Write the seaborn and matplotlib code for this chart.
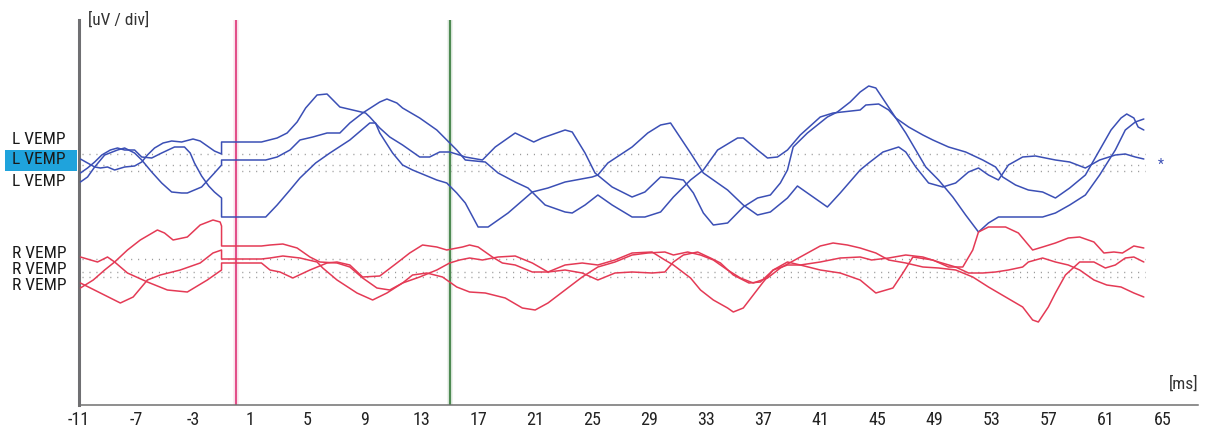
import matplotlib
matplotlib.use("Agg")
import matplotlib.pyplot as plt
from matplotlib.patches import Rectangle
import seaborn as sns

# ---- traces: time (ms) and vertical position (display units) ----
t_l1 = [-10.9, -10.4, -9.9, -9.5, -9.0, -8.5, -7.8, -7.1, -6.6, -6.2, -5.7, -5.1, -4.5, -3.8, -3.0, -2.5, -1.9, -1.5, -1.0,
        -1.0, 1.8, 2.9, 3.6, 4.3, 4.9, 5.7, 6.4, 7.3, 8.2, 9.1, 9.4, 10.1, 10.8, 11.7, 12.9, 13.6, 14.3, 15.0, 15.7, 16.1,
        17.3, 18.2, 19.6, 20.9, 21.5, 23.1, 23.6, 24.5, 25.2, 26.4, 27.8, 28.7, 29.8, 30.5, 31.4, 32.1, 32.8, 33.5, 34.5,
        35.6, 36.6, 37.5, 38.2, 38.7, 39.1, 40.1, 41.5, 42.2, 43.1, 43.8, 44.4, 44.9, 45.6, 46.3, 47.0, 47.7, 48.4, 49.3,
        50.3, 51.2, 52.1, 52.8, 53.5, 55.2, 56.6, 57.5, 58.5, 59.6, 60.6, 61.7, 62.4, 63.1, 63.7]
v_l1 = [246, 242, 238, 237, 238, 235, 238, 239, 243, 250, 257, 262, 264, 263, 266, 264, 258, 254, 251,
        263, 263, 267, 272, 283, 297, 310, 311, 298, 295, 292, 288, 277, 268, 260, 248, 248, 253, 253, 250, 248,
        245, 258, 272, 263, 267, 275, 273, 252, 232, 218, 208, 213, 228, 227, 225, 212, 192, 180, 182,
        198, 207, 210, 222, 235, 258, 272, 288, 293, 303, 313, 319, 317, 302, 287, 272, 255, 238, 225,
        208, 190, 173, 182, 188, 188, 188, 192, 200, 210, 230, 255, 275, 283, 286]

t_l2 = [-10.9, -10.4, -9.9, -9.2, -8.3, -7.8, -7.1, -6.6, -5.9, -5.2, -4.5, -3.8, -3.4, -2.4, -1.5, -1.0,
        -1.0, 2.1, 2.9, 3.8, 4.5, 5.4, 6.4, 7.3, 8.0, 8.9, 10.1, 10.6, 11.3, 11.7, 12.9, 14.1, 14.8, 15.5, 16.1,
        17.5, 18.4, 19.6, 20.5, 21.7, 23.1, 23.6, 24.5, 25.4, 26.4, 27.8, 28.7, 29.8, 30.7, 31.9, 32.8, 33.8, 35.2,
        35.6, 36.6, 37.3, 38.0, 38.7, 39.6, 41.0, 41.9, 43.8, 44.2, 45.1, 45.8, 46.3, 47.2, 48.2, 48.9, 50.0, 51.2,
        52.4, 53.3, 53.8, 54.7, 55.6, 56.6, 57.5, 58.5, 59.6, 60.6, 61.4, 62.1, 62.5, 63.0, 63.3, 63.7]
v_l2 = [223, 228, 238, 250, 255, 257, 252, 245, 233, 222, 213, 212, 212, 218, 232, 240,
        245, 245, 248, 255, 265, 268, 272, 272, 282, 292, 303, 306, 302, 297, 287, 275, 265, 255, 245,
        243, 232, 223, 217, 200, 193, 192, 200, 210, 200, 188, 188, 193, 208, 225, 235, 255, 267,
        267, 255, 247, 248, 255, 270, 288, 292, 295, 300, 301, 295, 287, 278, 270, 265, 258, 253,
        245, 238, 228, 220, 215, 213, 207, 217, 230, 255, 275, 287, 291, 287, 278, 275]

t_l3 = [-10.9, -10.4, -9.9, -9.4, -8.8, -8.3, -7.8, -7.1, -6.6, -5.9, -5.2, -4.3, -3.6, -3.2, -2.9, -2.4, -1.9, -1.5, -1.0,
        -1.0, 2.1, 2.9, 3.8, 4.5, 5.6, 6.6, 8.0, 9.4, 9.8, 10.1, 11.0, 11.7, 12.4, 14.1, 14.8, 15.5, 16.1,
        17.0, 17.7, 19.1, 20.8, 21.9, 23.1, 25.0, 25.4, 26.1, 27.8, 28.9, 29.8, 30.5, 31.9, 32.8, 34.5, 35.6, 36.6,
        37.5, 38.7, 39.4, 40.3, 41.5, 42.4, 43.8, 44.4, 45.4, 46.5, 47.0, 47.7, 48.6, 49.6, 50.5, 51.4, 52.1, 52.8,
        53.5, 54.2, 55.2, 56.1, 56.8, 57.5, 58.5, 59.6, 60.6, 61.7, 62.4, 63.1, 63.7]
v_l3 = [232, 237, 243, 250, 255, 257, 255, 255, 248, 247, 252, 258, 258, 252, 242, 229, 219, 213, 207,
        188, 188, 200, 215, 227, 242, 252, 265, 282, 282, 272, 252, 240, 235, 225, 222, 212, 202,
        178, 178, 192, 213, 217, 223, 228, 230, 242, 258, 272, 280, 282, 252, 232, 215, 200, 190,
        193, 207, 219, 210, 198, 212, 235, 242, 253, 258, 253, 238, 222, 218, 222, 233, 237, 230,
        225, 240, 248, 249, 247, 245, 243, 237, 245, 250, 251, 248, 246]

t_r1 = [-10.9, -10.0, -9.2, -8.5, -7.6, -6.7, -5.5, -5.0, -4.4, -3.4, -2.5, -1.6, -1.1, -1.0,
        -1.0, 1.8, 2.4, 3.3, 4.3, 5.2, 5.9, 7.1, 8.0, 8.9, 9.9, 10.8, 11.7, 12.9, 14.1, 15.0, 15.7, 16.4,
        17.3, 18.4, 19.6, 20.8, 21.9, 23.1, 24.3, 25.4, 26.6, 27.8, 29.2, 30.1, 30.7, 31.4, 32.4, 33.3, 34.0,
        34.9, 36.0, 36.8, 37.7, 38.7, 39.6, 41.0, 42.4, 43.8, 44.9, 46.1, 46.8, 47.5, 48.9, 50.0, 51.0, 51.7,
        52.1, 52.8, 54.0, 54.9, 55.9, 56.6, 57.5, 58.4, 59.2, 60.2, 60.9, 61.6, 62.2, 63.0, 63.7]
v_r1 = [117, 125, 135, 143, 155, 165, 175, 172, 165, 168, 180, 185, 183, 179,
        159, 159, 160, 161, 157, 148, 143, 142, 138, 127, 117, 115, 122, 128, 135, 142, 145, 147,
        145, 148, 149, 142, 133, 135, 132, 125, 132, 133, 132, 133, 143, 150, 153, 147, 142,
        130, 122, 123, 135, 143, 140, 135, 132, 125, 112, 117, 132, 148, 145, 138, 138, 155,
        173, 178, 178, 172, 155, 158, 162, 167, 168, 163, 152, 153, 152, 159, 157]

t_r2 = [-10.9, -9.5, -8.1, -7.2, -6.2, -5.3, -3.9, -2.5, -1.6, -1.0,
        -1.0, 1.8, 2.4, 3.3, 4.5, 5.7, 6.1, 7.1, 8.5, 9.6, 10.6, 11.7, 12.4, 13.4, 14.5, 15.5, 16.4,
        17.5, 18.9, 20.1, 21.0, 21.9, 23.1, 24.3, 25.4, 26.6, 27.8, 28.9, 30.1, 30.7, 31.7, 32.6, 33.5, 34.5,
        35.4, 36.3, 37.3, 38.2, 39.6, 41.0, 41.9, 42.9, 43.8, 44.9, 45.8, 47.0, 48.2, 49.3, 50.5, 51.7,
        52.8, 54.0, 55.2, 55.9, 56.3, 57.0, 57.5, 58.2, 59.2, 60.2, 61.0, 61.7, 62.4, 63.0, 63.7]
v_r2 = [122, 112, 102, 108, 125, 130, 135, 142, 152, 155,
        146, 146, 147, 149, 147, 143, 137, 125, 112, 105, 112, 122, 130, 132, 128, 118, 113,
        112, 107, 97, 95, 102, 115, 128, 138, 143, 150, 152, 153, 150, 153, 150, 145, 135,
        127, 122, 127, 137, 148, 159, 162, 160, 157, 152, 145, 142, 138, 137, 135, 128,
        118, 108, 98, 85, 83, 98, 112, 130, 143, 143, 137, 140, 147, 148, 143]

t_r3 = [-10.9, -9.7, -9.0, -8.5, -7.6, -6.2, -4.8, -3.4, -2.0, -1.0,
        -1.0, 1.8, 2.4, 3.1, 4.0, 5.2, 6.4, 7.1, 8.0, 8.9, 10.1, 11.3, 12.2, 13.1, 14.1, 14.8, 15.9, 16.4,
        17.0, 18.0, 18.7, 19.6, 20.8, 21.9, 23.1, 24.3, 25.4, 26.6, 27.8, 29.2, 30.1, 30.7, 31.9, 32.6, 33.5,
        34.5, 34.9, 35.6, 36.3, 37.0, 37.7, 38.7, 39.6, 41.0, 42.4, 43.8, 44.6, 45.8, 47.0, 48.2, 49.3, 50.5,
        51.4, 52.4, 53.3, 54.2, 55.2, 55.6, 56.6, 57.5, 58.4, 59.2, 60.2, 61.1, 62.1, 63.0, 63.7]
v_r3 = [148, 143, 148, 143, 132, 123, 115, 113, 125, 135,
        142, 142, 135, 133, 127, 135, 142, 143, 140, 128, 129, 142, 152, 160, 158, 155, 158, 160,
        158, 148, 142, 140, 133, 133, 140, 142, 140, 145, 152, 153, 145, 140, 127, 115, 105,
        97, 93, 97, 110, 123, 135, 140, 140, 143, 147, 148, 145, 147, 150, 148, 143, 138,
        132, 132, 133, 135, 138, 143, 147, 143, 140, 135, 125, 120, 118, 112, 108]

# reference (baseline) levels of each channel
l_baselines = [251, 240, 234]
r_baselines = [146, 133, 128]

# channel labels and their vertical positions
l_labels = ["L VEMP", "L VEMP", "L VEMP"]
l_label_pos = [265, 245, 223]
r_labels = ["R VEMP", "R VEMP", "R VEMP"]
r_label_pos = [151, 135, 120]

# time axis
x_ticks = list(range(-11, 66, 4))
stim_marker = 0.0
latency_marker = 15.0
x_min, x_max = -11, 67.5
y_min, y_max = 0, 385
t_end = 63.8

# ---- figure ----
sns.set_style("white")
plt.rcParams["font.family"] = ["Roboto Condensed", "Liberation Sans Narrow", "Roboto", "DejaVu Sans"]

W, H, DPI = 1209, 430, 100
fig = plt.figure(figsize=(W / DPI, H / DPI), dpi=DPI)
ax = fig.add_axes([79 / W, 1 - 405 / H, 1119 / W, 385 / H])

blue = "#3b4fb5"
red = "#e43a55"

# baselines
for b in l_baselines + r_baselines:
    ax.plot([x_min + 0.2, t_end], [b, b], color="#9a9a9a", lw=1.0,
            linestyle=(0, (0.8, 4.2)), zorder=1)

# marker lines
ax.axvline(stim_marker, color="#f0b8cc", lw=4, alpha=0.3, zorder=1)
ax.axvline(stim_marker, color="#e2508a", lw=1.5, zorder=2)
ax.axvline(latency_marker, color="#b8d0b8", lw=4, alpha=0.3, zorder=1)
ax.axvline(latency_marker, color="#4e8a52", lw=1.6, zorder=2)

for t, v in [(t_l1, v_l1), (t_l2, v_l2), (t_l3, v_l3)]:
    sns.lineplot(x=t, y=v, estimator=None, sort=False, color=blue, lw=1.1, ax=ax, zorder=3)
for t, v in [(t_r1, v_r1), (t_r2, v_r2), (t_r3, v_r3)]:
    sns.lineplot(x=t, y=v, estimator=None, sort=False, color=red, lw=1.1, ax=ax, zorder=3)

ax.text(64.9, 240, "*", color=blue, fontsize=10, ha="center", va="center")

ax.set_xlim(x_min, x_max)
ax.set_ylim(y_min, y_max)
ax.set_xticks(x_ticks)
ax.set_xticklabels([str(x) for x in x_ticks])
ax.set_yticks([])
ax.tick_params(axis="x", direction="inout", length=4, width=1.2, color="#808080",
               labelsize=13, labelcolor="#222222", pad=2)

for s in ["top", "right"]:
    ax.spines[s].set_visible(False)
ax.spines["left"].set_color("#6f6f72")
ax.spines["left"].set_linewidth(2.2)
ax.spines["bottom"].set_color("#707070")
ax.spines["bottom"].set_linewidth(1.1)

# unit labels
ax.text(0.008, 1.0, "[uV / div]", transform=ax.transAxes, fontsize=12.5,
        color="#333333", ha="left", va="center")
ax.text(1.0, 0.055, "[ms]", transform=ax.transAxes, fontsize=12.5,
        color="#333333", ha="right", va="center")

# channel labels, the selected one highlighted
trans = matplotlib.transforms.blended_transform_factory(fig.transFigure, ax.transData)
ax.add_patch(Rectangle((5 / W, 1 - 171 / H), 72 / W, 21 / H, transform=fig.transFigure,
                       facecolor="#1fa3dc", edgecolor="none", zorder=2.5, clip_on=False))
for lab, y in zip(l_labels, l_label_pos):
    ax.text(66 / W, y, lab, transform=trans, fontsize=12.5, color="#1a1a1a",
            ha="right", va="center", clip_on=False, zorder=4)
for lab, y in zip(r_labels, r_label_pos):
    ax.text(66 / W, y, lab, transform=trans, fontsize=12.5, color="#1a1a1a",
            ha="right", va="center", clip_on=False, zorder=4)

fig.savefig("out.png", dpi=DPI, facecolor="white")
